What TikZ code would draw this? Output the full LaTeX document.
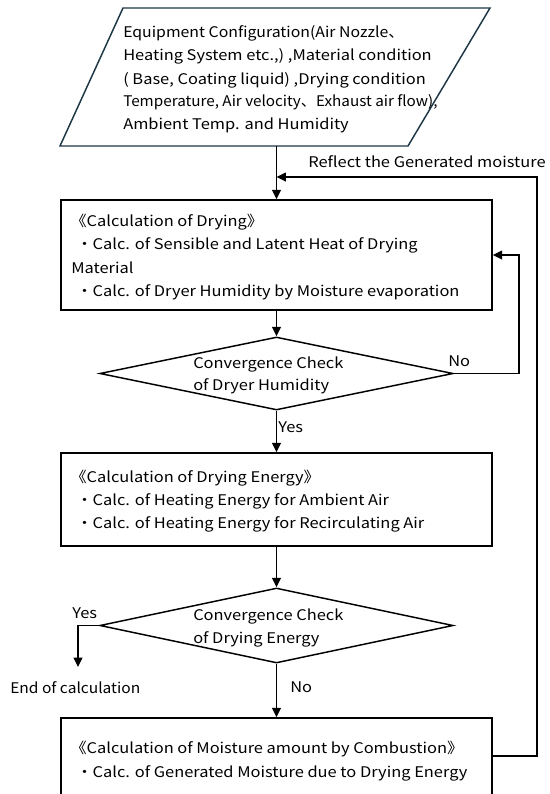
\documentclass[tikz,border=0pt]{standalone}
\usepackage{fontspec}
\setmainfont{Noto Sans CJK JP}[FakeStretch=1.12]
\usetikzlibrary{arrows.meta,shapes.geometric}
\definecolor{slate}{RGB}{30,55,70}
\newcommand{\fs}{\fontsize{11pt}{13pt}\selectfont}
\begin{document}
\begin{tikzpicture}[x=0.75pt,y=-0.75pt,
  ln/.style={line width=1.1pt, draw=black},
  arr/.style={ln, -{Triangle[length=7pt,width=6.5pt]}},
  txt/.style={anchor=base west, inner sep=0pt, font=\fs, text=black},
  narrow/.style={font=\fs\addfontfeature{FakeStretch=#1}},
  procbox/.style={ln, rectangle, inner sep=0pt, minimum width=323.25pt},
  decide/.style={ln, diamond, inner sep=0pt, minimum width=265pt}
]
\useasboundingbox (0,0) rectangle (550,794);

% input parallelogram
\coordinate (p1) at (123,8);
\coordinate (p2) at (490,8);
\coordinate (p3) at (408,146);
\coordinate (p4) at (60,146);
\draw[line width=1.1pt, draw=slate] (p1) -- (p2) -- (p3) -- (p4) -- cycle;
\coordinate (pb) at (276.5,146);
\node[txt, narrow=1.08] (i1) at (123,37) {Equipment Configuration(Air Nozzle、};
\node[txt] (i2) at (123,60) {Heating System etc.,) ,Material condition};
\node[txt] (i3) at (123,84) {( Base, Coating liquid) ,Drying condition};
\node[txt, narrow=1.04] (i4) at (123,106) {Temperature, Air velocity、Exhaust air flow),};
\node[txt] (i5) at (123,129) {Ambient Temp. and Humidity};

% process boxes
\node[procbox, minimum height=82.5pt] (b1) at (276.5,255) {};
\node[procbox, minimum height=69.75pt] (b2) at (276.5,499.5) {};
\node[procbox, minimum height=75pt] (b3) at (276.5,768) {};

% decisions
\node[decide, minimum height=54.75pt, aspect=4.84] (d1) at (276.5,373.5) {};
\node[decide, minimum height=56.25pt, aspect=4.72] (d2) at (276.5,625.5) {};

% box texts
\node[txt] (t11) at (70,226) {《Calculation of Drying》};
\node[txt] (t12) at (76,249.5) {・Calc. of Sensible and Latent Heat of Drying};
\node[txt] (t13) at (71,273) {Material};
\node[txt] (t14) at (76,296.5) {・Calc. of Dryer Humidity by Moisture evaporation};

\node[txt] (d1a) at (193,368) {Convergence Check};
\node[txt] (d1b) at (193,390) {of Dryer Humidity};

\node[txt] (t21) at (70,482) {《Calculation of Drying Energy》};
\node[txt] (t22) at (76,505) {・Calc. of Heating Energy for Ambient Air};
\node[txt] (t23) at (76,528) {・Calc. of Heating Energy for Recirculating Air};

\node[txt] (d2a) at (193,620) {Convergence Check};
\node[txt] (d2b) at (193,643) {of Drying Energy};

\node[txt] (t31) at (70,753) {《Calculation of Moisture amount by Combustion》};
\node[txt] (t32) at (76,777) {・Calc. of Generated Moisture due to Drying Energy};

% labels
\node[txt] (lref) at (308,167) {Reflect the Generated moisture};
\node[txt] (lno1) at (448,366) {No};
\node[txt] (lyes1) at (278,432) {Yes};
\node[txt] (lyes2) at (72,618) {Yes};
\node[txt] (lno2) at (290,692) {No};
\node[txt, narrow=1.06] (lend) at (10,693) {End of calculation};

% connectors
\coordinate (merge) at (276.5,177);
\coordinate (fbc) at (537,177);
\coordinate (loopc) at (519,255);
\coordinate (endc) at (78,667);
\draw[arr] (pb) -- (b1.north);
\draw[arr] (b1.south) -- (d1.north);
\draw[arr] (d1.south) -- (b2.north);
\draw[arr] (b2.south) -- (d2.north);
\draw[arr] (d2.south) -- (b3.north);
\draw[arr] (d1.east) -| (loopc) -- (b1.east);
\draw[arr] (d2.west) -| (endc);
\draw[arr] ([yshift=9pt]b3.east) -| (fbc) -- (merge);
\end{tikzpicture}
\end{document}
